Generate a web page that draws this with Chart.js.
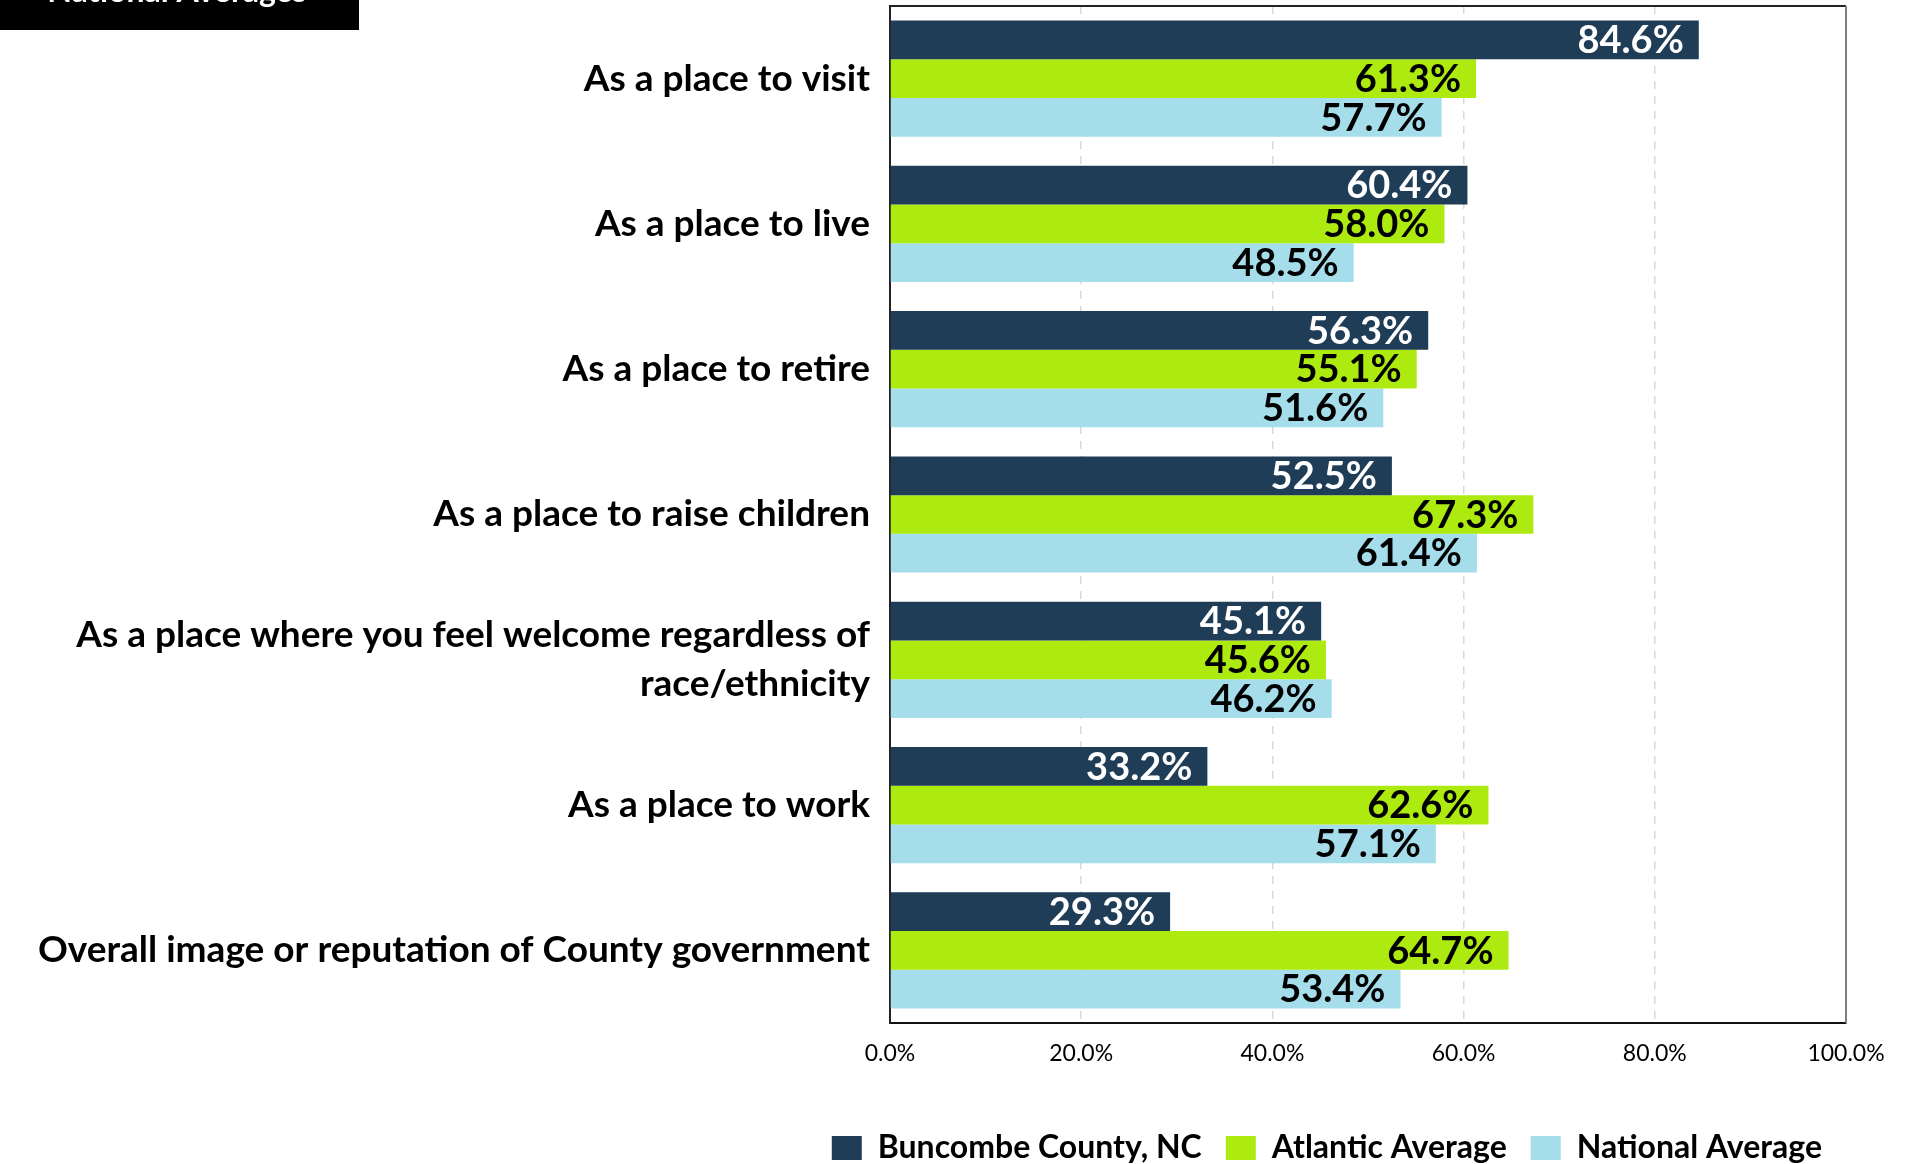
<!DOCTYPE html>
<html>
<head>
<meta charset="utf-8">
<script src="https://cdn.jsdelivr.net/npm/chart.js@4/dist/chart.umd.min.js"></script>
<style>
  html, body { margin: 0; padding: 0; background: #ffffff; }
  #wrap { width: 1912px; height: 1164px; position: relative; }
</style>
</head>
<body>
<div id="wrap"><canvas id="c" width="1912" height="1164"></canvas></div>
<script>
// ---- Data ----
const categories = [
  'As a place to visit',
  'As a place to live',
  'As a place to retire',
  'As a place to raise children',
  ['As a place where you feel welcome regardless of', 'race/ethnicity'],
  'As a place to work',
  'Overall image or reputation of County government'
];
const seriesNames = ['Buncombe County, NC', 'Atlantic Average', 'National Average'];
const buncombe = [84.6, 60.4, 56.3, 52.5, 45.1, 33.2, 29.3];
const atlantic = [61.3, 58.0, 55.1, 67.3, 45.6, 62.6, 64.7];
const national = [57.7, 48.5, 51.6, 61.4, 46.2, 57.1, 53.4];
const xTicks = [0, 20, 40, 60, 80, 100];
const cornerLabel = 'National Averages';

const colors = ['#203D57', '#ADEA10', '#A5DDEB'];
const labelColors = ['#ffffff', '#000000', '#000000'];
const FONT = 'Lato, "Open Sans", sans-serif';

const dataLabels = {
  id: 'dataLabels',
  afterDatasetsDraw(chart) {
    const ctx = chart.ctx;
    ctx.save();
    ctx.font = 'bold 38px ' + FONT;
    ctx.textAlign = 'right';
    ctx.textBaseline = 'middle';
    chart.data.datasets.forEach((ds, di) => {
      const meta = chart.getDatasetMeta(di);
      ctx.fillStyle = labelColors[di];
      meta.data.forEach((bar, i) => {
        ctx.fillText(ds.data[i].toFixed(1) + '%', bar.x - 15, bar.y + 1);
      });
    });
    ctx.restore();
  }
};

const frame = {
  id: 'frame',
  afterDatasetsDraw(chart) {
    const {ctx, chartArea: a} = chart;
    ctx.save();
    ctx.lineWidth = 2;
    ctx.strokeStyle = '#222222';
    ctx.beginPath();
    ctx.moveTo(a.left, a.top);
    ctx.lineTo(a.right, a.top);
    ctx.stroke();
    ctx.strokeStyle = '#7f7f7f';
    ctx.beginPath();
    ctx.moveTo(a.right, a.top);
    ctx.lineTo(a.right, a.bottom);
    ctx.stroke();
    ctx.restore();
  },
  afterDraw(chart) {
    const ctx = chart.ctx;
    ctx.save();
    ctx.fillStyle = '#000000';
    ctx.fillRect(0, 0, 359, 30);
    ctx.fillStyle = '#ffffff';
    ctx.font = 'bold 32px ' + FONT;
    ctx.textAlign = 'center';
    ctx.textBaseline = 'alphabetic';
    ctx.fillText(cornerLabel, 177, 2);
    ctx.restore();
  }
};

new Chart(document.getElementById('c'), {
  type: 'bar',
  data: {
    labels: categories,
    datasets: [
      { label: seriesNames[0], data: buncombe, backgroundColor: colors[0] },
      { label: seriesNames[1], data: atlantic, backgroundColor: colors[1] },
      { label: seriesNames[2], data: national, backgroundColor: colors[2] }
    ]
  },
  options: {
    indexAxis: 'y',
    responsive: false,
    animation: false,
    devicePixelRatio: 1,
    datasets: { bar: { categoryPercentage: 0.8, barPercentage: 1.0, borderWidth: 0 } },
    layout: { padding: { left: 0, right: 66, top: 6, bottom: -10 } },
    scales: {
      x: {
        min: 0, max: 100,
        afterBuildTicks(scale) { scale.ticks = xTicks.map(v => ({ value: v })); },
        afterFit(scale) { scale.height = 85; },
        grid: {
          drawTicks: false,
          color: ctx => (ctx.tick && (ctx.tick.value === 0 || ctx.tick.value === 100)) ? 'rgba(0,0,0,0)' : '#d9d9d9',
          lineWidth: 1.5
        },
        border: { display: true, color: '#111111', width: 2, dash: [8, 7] },
        ticks: {
          padding: 17,
          color: '#000000',
          font: { family: FONT, size: 23, weight: 'normal' },
          callback: v => Number(v).toFixed(1) + '%'
        }
      },
      y: {
        afterFit(scale) { scale.width = 890; scale.paddingTop = 0; scale.paddingBottom = 0; },
        grid: { display: false, drawTicks: false },
        border: { display: true, color: '#222222', width: 2 },
        ticks: {
          padding: 20,
          color: '#000000',
          font: { family: FONT, size: 37, weight: 'bold', lineHeight: 1.32 }
        }
      }
    },
    plugins: {
      legend: {
        position: 'bottom',
        align: 'end',
        labels: {
          boxWidth: 30,
          boxHeight: 24,
          padding: 24,
          color: '#000000',
          font: { family: FONT, size: 32, weight: 'bold' }
        }
      },
      tooltip: { enabled: false },
      title: { display: false }
    }
  },
  plugins: [dataLabels, frame]
});
</script>
</body>
</html>
